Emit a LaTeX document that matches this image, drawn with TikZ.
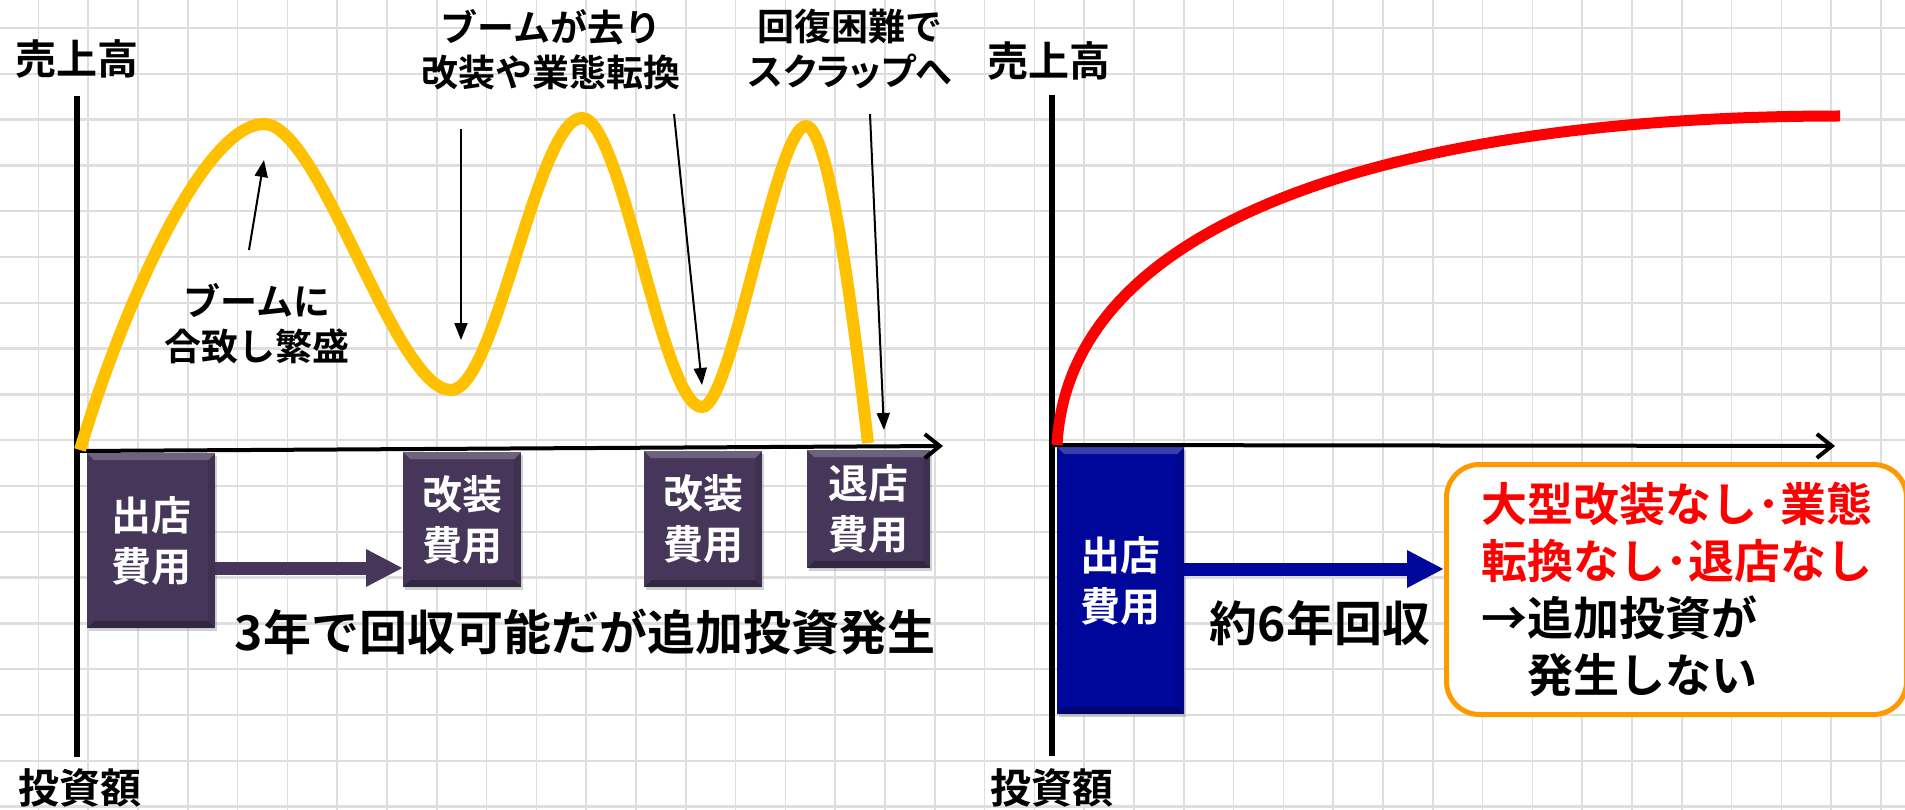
\documentclass[tikz,border=0pt]{standalone}
\usepackage{fontspec}
\setmainfont{Noto Sans CJK JP}[UprightFont=* Bold, BoldFont=* Bold]
\usetikzlibrary{arrows.meta,shadows}
\definecolor{gridc}{RGB}{222,222,222}
\definecolor{gold}{RGB}{255,192,0}
\definecolor{pcol}{RGB}{70,55,90}
\definecolor{bcol}{RGB}{0,8,155}
\definecolor{orng}{RGB}{255,153,0}
\definecolor{redt}{RGB}{255,0,0}
\newcommand{\fsz}[2]{\fontsize{#1pt}{#2pt}\selectfont}
\tikzset{
  axisv/.style={line width=5.5pt, black},
  axish/.style={line width=4pt, black, -{Straight Barb[length=15pt,width=24pt]}},
  thinarrow/.style={line width=2pt, black, -{Triangle[length=17pt,width=13pt]}},
  lbl/.style={inner sep=0pt, font=\fsz{41}{45}},
  note/.style={inner sep=0pt, align=center, font=\fsz{37}{45}},
  bigtxt/.style={inner sep=0pt, font=\fsz{48}{55}},
  bevel/.style={path picture={
    \fill[white,opacity=.22] (path picture bounding box.north west) -- (path picture bounding box.north east) -- ([xshift=-7pt,yshift=-7pt]path picture bounding box.north east) -- ([xshift=7pt,yshift=-7pt]path picture bounding box.north west) -- cycle;
    \fill[black,opacity=.28] (path picture bounding box.south west) -- (path picture bounding box.south east) -- ([xshift=-7pt,yshift=7pt]path picture bounding box.south east) -- ([xshift=7pt,yshift=7pt]path picture bounding box.south west) -- cycle;
    \fill[black,opacity=.10] (path picture bounding box.north east) -- (path picture bounding box.south east) -- ([xshift=-7pt,yshift=7pt]path picture bounding box.south east) -- ([xshift=-7pt,yshift=-7pt]path picture bounding box.north east) -- cycle;
  }},
  costbox/.style={fill=pcol, text=white, inner sep=0pt, anchor=north west, align=center,
    font=\fsz{40}{51}, bevel, drop shadow={shadow xshift=2pt, shadow yshift=-3pt, opacity=.35}},
  fatarrow/.style={line width=13pt, -{Triangle[length=37pt,width=35pt]}},
}
\begin{document}
\begin{tikzpicture}[x=1pt,y=-1pt]
\useasboundingbox (0,0) rectangle (1905,810);
\fill[white] (0,0) rectangle (1905,810);
% grid
\foreach \k in {0,...,37} \draw[gridc,line width=1.6pt] ({38.3+49.8*\k},0) -- ++(0,810);
\foreach \k in {0,...,17} \draw[gridc,line width=2.4pt] (0,{28+45.8*\k}) -- ++(1905,0);

% ---------------- left chart ----------------
\coordinate (Ltop) at (77,96);
\coordinate (Lbot) at (77,757);
\coordinate (Lorg) at (77,451);
\coordinate (Lend) at (943,446);
\draw[axisv] (Ltop) -- (Lbot);

% cost boxes
\node[costbox, minimum width=128pt, minimum height=175pt] (pb1) at (87,453) {出店\\費用};
\node[costbox, minimum width=118pt, minimum height=135pt] (pb2) at (403,452) {改装\\費用};
\node[costbox, minimum width=118pt, minimum height=136pt] (pb3) at (644,451) {改装\\費用};
\node[costbox, minimum width=123pt, minimum height=118pt] (pb4) at (807,450) {退店\\費用};

\draw[axish] (Lorg) -- (Lend);

% yellow sales curve
\draw[gold, line width=12pt] (80,450) .. controls (125,300) and (205,124) .. (264,124)
  .. controls (320,124) and (395,390) .. (451,390)
  .. controls (496,390) and (537,118) .. (582,118)
  .. controls (622,118) and (662,407) .. (702,407)
  .. controls (732,407) and (776,126) .. (806,126)
  .. controls (830,126) and (855,330) .. (868,443);

% labels
\node[lbl] (ly) at (77,59) {売上高};
\node[lbl] (lx) at (80,788) {投資額};
\node[note] (n1) at (257,324) {ブームに\\合致し繁盛};
\node[note] (n2) at (551,50) {ブームが去り\\改装や業態転換};
\node[note] (n3) at (850,49) {回復困難で\\{\addfontfeatures{RawFeature=+palt}スクラップへ}};

% thin arrows
\coordinate (a1s) at (249,250); \coordinate (a1e) at (264,160);
\coordinate (a2s) at (461,129); \coordinate (a2e) at (461,340);
\coordinate (a3s) at (674,114); \coordinate (a3e) at (702,385);
\coordinate (a4s) at (870,114); \coordinate (a4e) at (884,430);
\draw[thinarrow] (a1s) -- (a1e);
\draw[thinarrow] (a2s) -- (a2e);
\draw[thinarrow] (a3s) -- (a3e);
\draw[thinarrow] (a4s) -- (a4e);

% purple fat arrow
\coordinate (pay) at (0,568);
\draw[fatarrow, pcol, drop shadow={shadow xshift=2pt, shadow yshift=-3pt, opacity=.3}] (pb1.east |- pay) -- (pb2.west |- pay);

\node[bigtxt] (t3) at (585,632) {3年で回収可能だが追加投資発生};

% ---------------- right chart ----------------
\coordinate (Rtop) at (1052,95);
\coordinate (Rbot) at (1052,756);
\coordinate (Rorg) at (1049,445);
\coordinate (Rend) at (1835,446);
\draw[axisv] (Rtop) -- (Rbot);

\node[costbox, fill=bcol, minimum width=127pt, minimum height=267pt] (bb) at (1057,447) {出店\\費用};
\draw[axish] (Rorg) -- (Rend);

\draw[redt, line width=11pt] (1057,445) .. controls (1070,200) and (1450,116) .. (1840,116);

\node[lbl] (ry) at (1049,61) {売上高};
\node[lbl] (rx) at (1052,788) {投資額};

\node[draw=orng, line width=5pt, rounded corners=33pt, fill=white, anchor=north west,
      minimum width=460pt, minimum height=250pt, align=left, inner sep=0pt,
      font=\fsz{46}{57}] (ob) at (1444,462)
  {{\color{redt}大型改装なし･業態}\\{\color{redt}転換なし･退店なし}\\→追加投資が\\\phantom{→}発生しない};

\coordinate (bay) at (0,569);
\draw[fatarrow, bcol, drop shadow={shadow xshift=2pt, shadow yshift=-3pt, opacity=.3}] (bb.east |- bay) -- (ob.west |- bay);

\node[bigtxt] (t6) at (1320,623) {約6年回収};
\end{tikzpicture}
\end{document}
